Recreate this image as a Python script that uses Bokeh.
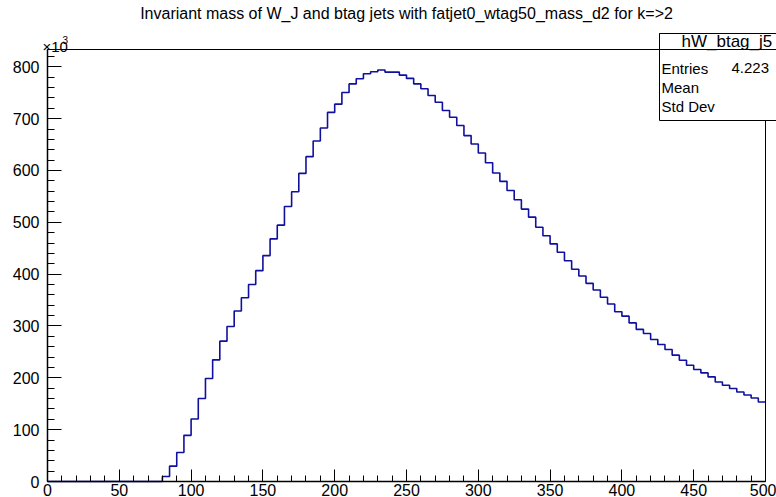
import numpy as np
from bokeh.plotting import figure
from bokeh.models import SingleIntervalTicker, Range1d, BoxAnnotation, Label
from bokeh.embed import file_html
from bokeh.resources import INLINE

# ---------------- data (counts in units of 10^3, 5-unit bins from 0 to 500) -------------
bin_edges_start = 0
bin_edges_stop = 500
bin_width = 5
counts_k = [
    0, 0, 0, 0, 0, 0, 0, 0, 0, 0, 0, 0, 0, 0, 0, 0,            # 0 - 80
    9.7, 29.6, 56, 89, 120.5, 160, 198.6, 234.7,               # 80 - 120
    270.8, 299, 328.8, 354.6, 380, 406.8, 435.8, 468,          # 120 - 160
    494.5, 530.6, 559, 594.4, 626.7, 657, 682, 712,            # 160 - 200
    728, 750.5, 767, 777, 786.6, 790.5, 793.7, 789.8,          # 200 - 240
    789.8, 784, 777.6, 767, 757.6, 744.7, 731.7, 715.7,        # 240 - 280
    702.7, 686.7, 667.3, 651, 633.8, 615, 595, 579,            # 280 - 320
    561.5, 543.5, 525.5, 510, 490.6, 474, 458.4, 442.3,        # 320 - 360
    426, 409.5, 396.5, 382.3, 369.4, 355.3, 342.4, 327.5,      # 360 - 400
    319, 306, 293.4, 285.6, 274, 264.4, 254.7, 243.7,          # 400 - 440
    234, 224.4, 216, 209.5, 201.8, 192, 185.7, 179.3,          # 440 - 480
    172.8, 167, 161, 153.4,                                    # 480 - 500
]
title_text = "Invariant mass of W_J and btag jets with fatjet0_wtag50_mass_d2 for k=>2"
hist_name = "hW_btag_j5"
stat_labels = ["Entries", "Mean", "Std Dev"]
entries_text = "4.223"
y_multiplier_text = "\u00d710"
y_multiplier_exp = "3"

# ---------------- derived step outline ----------------
edges = np.arange(bin_edges_start, bin_edges_stop + bin_width, bin_width)
counts = np.array(counts_k, dtype=float)
step_x = np.repeat(edges, 2)[1:-1]
step_y = np.repeat(counts, 2)
y_top = counts.max() * 1.05

# ---------------- layout: the frame covers the whole canvas, axes are pinned -------------
W, H = 776, 497
FL, FR, FT, FB = 47, 765, 49, 481          # ROOT frame edges in canvas pixels
sx = (FR - FL) / (bin_edges_stop - bin_edges_start)
sy = (FB - FT) / y_top
x0 = bin_edges_start - FL / sx
x1 = bin_edges_stop + (W - FR) / sx
y0 = -(H - FB) / sy
y1 = y_top + FT / sy

FONT = "Liberation Sans"

p = figure(width=W, height=H, output_backend="svg", toolbar_location=None,
           x_range=Range1d(x0, x1), y_range=Range1d(y0, y1),
           min_border_left=0, min_border_right=0, min_border_top=0, min_border_bottom=0)
p.background_fill_color = "white"
p.border_fill_color = "white"
p.outline_line_color = None
p.xgrid.visible = False
p.ygrid.visible = False

p.line(step_x, step_y, line_color="#10109e", line_width=1.6)

for ax, maj, mnr in ((p.xaxis[0], 12, 6), (p.yaxis[0], 14, 7)):
    ax.axis_line_color = "black"
    ax.axis_line_width = 1.5
    ax.major_tick_line_color = "black"
    ax.minor_tick_line_color = "black"
    ax.major_tick_in = maj
    ax.major_tick_out = 0
    ax.minor_tick_in = mnr
    ax.minor_tick_out = 0
    ax.major_label_text_font = FONT
    ax.major_label_text_font_size = "16px"
    ax.major_label_text_color = "black"

p.xaxis[0].ticker = SingleIntervalTicker(interval=50, num_minor_ticks=5)
p.yaxis[0].ticker = SingleIntervalTicker(interval=100, num_minor_ticks=5)
p.xaxis[0].bounds = (bin_edges_start, bin_edges_stop)
p.yaxis[0].bounds = (0, y_top)
p.xaxis[0].fixed_location = 0
p.yaxis[0].fixed_location = bin_edges_start
p.xaxis[0].major_label_standoff = 2
p.yaxis[0].major_label_standoff = 8

# ROOT frame box
p.add_layout(BoxAnnotation(left=bin_edges_start, right=bin_edges_stop, bottom=0, top=y_top,
                           fill_alpha=0, line_color="black", line_width=1, line_alpha=1))

# title and multiplier (screen units = canvas pixels, y measured upward from bottom)
p.add_layout(Label(x=(bin_edges_start + bin_edges_stop) / 2, y=H - 13, x_units="data", y_units="screen",
                   text=title_text, text_align="center", text_baseline="middle",
                   text_font=FONT, text_font_size="16px", text_color="black"))
p.add_layout(Label(x=42, y=H - 46, x_units="screen", y_units="screen",
                   text=y_multiplier_text, text_align="left", text_baseline="alphabetic",
                   text_font=FONT, text_font_size="15px", text_color="black"))
p.add_layout(Label(x=62, y=H - 39, x_units="screen", y_units="screen",
                   text=y_multiplier_exp, text_align="left", text_baseline="alphabetic",
                   text_font=FONT, text_font_size="10px", text_color="black"))

# stats box
box_left, box_right = 659, 790
box_top, box_sep, box_bottom = H - 33, H - 49, H - 120
p.add_layout(BoxAnnotation(left=box_left, right=box_right, top=box_top, bottom=box_bottom,
                           left_units="screen", right_units="screen", top_units="screen", bottom_units="screen",
                           fill_color="white", fill_alpha=1, line_color="black", line_width=1, line_alpha=1))
p.add_layout(BoxAnnotation(left=box_left, right=box_right, top=box_top, bottom=box_sep,
                           left_units="screen", right_units="screen", top_units="screen", bottom_units="screen",
                           fill_color="white", fill_alpha=1, line_color="black", line_width=1, line_alpha=1))
p.add_layout(Label(x=681, y=H - 41, x_units="screen", y_units="screen",
                   text=hist_name, text_align="left", text_baseline="middle",
                   text_font=FONT, text_font_size="17px", text_color="black"))
for i, s in enumerate(stat_labels):
    p.add_layout(Label(x=box_left + 2, y=H - 67.7 - 19 * i, x_units="screen", y_units="screen",
                       text=s, text_align="left", text_baseline="middle",
                       text_font=FONT, text_font_size="15px", text_color="black"))
p.add_layout(Label(x=731, y=H - 67.7, x_units="screen", y_units="screen",
                   text=entries_text, text_align="left", text_baseline="middle",
                   text_font=FONT, text_font_size="15px", text_color="black"))

open("out.html", "w").write(file_html(p, INLINE))
